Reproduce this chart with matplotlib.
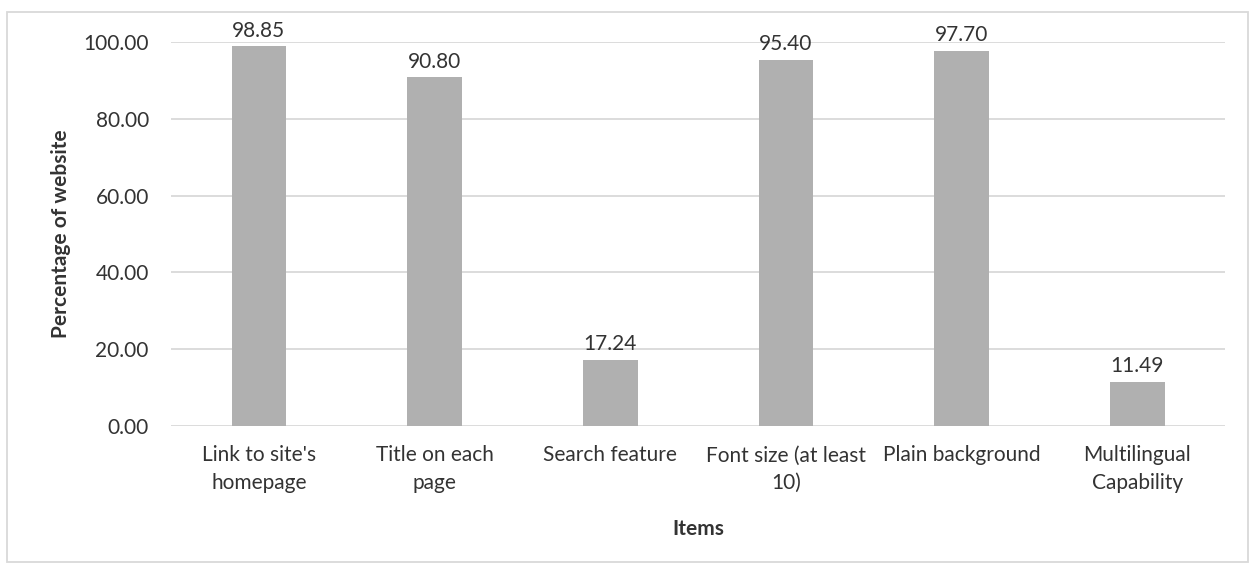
import matplotlib.pyplot as plt
from matplotlib.patches import Rectangle

items = ["Link to site's\nhomepage", "Title on each\npage", "Search feature",
         "Font size (at least\n10)", "Plain background", "Multilingual\nCapability"]
percent = [98.85, 90.80, 17.24, 95.40, 97.70, 11.49]
yticks = [0, 20, 40, 60, 80, 100]

plt.rcParams['font.family'] = ['Lato', 'DejaVu Sans']
txt = '#333333'

fig = plt.figure(figsize=(12.55, 5.68), dpi=100)
ax = fig.add_axes([0.1363, 0.25, 0.840, 0.676])

x = range(len(items))
bars = ax.bar(x, percent, width=0.31, color='#b0b0b0', zorder=3)
for b, v in zip(bars, percent):
    ax.annotate(f'{v:.2f}', (b.get_x() + b.get_width() / 2, v),
                xytext=(0, 4), textcoords='offset points',
                ha='center', va='bottom', fontsize=15, color=txt,
                annotation_clip=False)

ax.set_xlim(-0.5, len(items) - 0.5)
ax.set_ylim(0, 100)
ax.set_yticks(yticks)
ax.set_yticklabels([f'{t:.2f}' for t in yticks])
ax.set_xticks(list(x))
ax.set_xticklabels(items, linespacing=1.45)
ax.grid(axis='y', color='#d9d9d9', linewidth=1.3, zorder=0)
ax.tick_params(axis='both', length=0, labelsize=15, colors=txt)
ax.tick_params(axis='y', pad=16)
ax.tick_params(axis='x', pad=14)
for s in ax.spines.values():
    s.set_visible(False)

ax.set_ylabel('Percentage of website', fontsize=15, fontweight='bold', color=txt, labelpad=9)
ax.set_xlabel('Items', fontsize=15, fontweight='bold', color=txt, labelpad=19)

# chart area frame
fig.patches.append(Rectangle((7 / 1255, 6 / 568), 1241 / 1255, 550 / 568,
                             transform=fig.transFigure, fill=False,
                             edgecolor='#d9d9d9', linewidth=1.3))

fig.savefig('out.png', dpi=100)
